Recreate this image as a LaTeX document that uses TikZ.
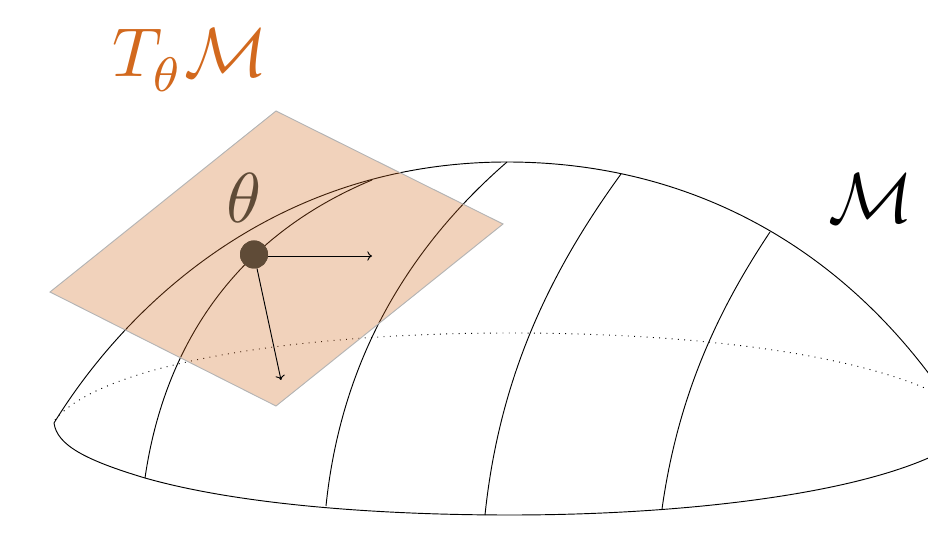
\documentclass[tikz,border=0pt]{standalone}
\usepackage{amsmath}
\usetikzlibrary{arrows.meta}
\definecolor{planefill}{HTML}{D2691E}
\definecolor{planeedge}{HTML}{B4B4B4}
\definecolor{pointc}{HTML}{5F4B37}
\definecolor{tangentc}{HTML}{D2691E}
\tikzset{
  px/.style={x=0.75pt,y=-0.75pt},
  surf/.style={line width=0.7pt,black},
  hidden/.style={line width=0.7pt,dash pattern=on 0.7pt off 4pt,black},
  plane/.style={fill=planefill,fill opacity=0.3,draw=planeedge,line width=0.7pt},
  vec/.style={-{To[length=3.5pt,width=7pt]},line width=0.7pt,black},
  pointdot/.style={circle,fill=pointc,draw=none,minimum size=21pt,inner sep=0pt}
}
\begin{document}
\begin{tikzpicture}[px]
\useasboundingbox (0,0) rectangle (928,534);
\clip (0,0) rectangle (928,534);
% surface
\draw[surf] (54,423) .. controls (130,300) and (280,162) .. (507,162)
  .. controls (680,162) and (830,238) .. (935,382);
\draw[surf] (54,423) .. controls (57,445) and (85,460) .. (145,478)
  .. controls (240,505) and (380,515) .. (510,515)
  .. controls (680,515) and (850,495) .. (935,455);
\draw[hidden] (55,420) .. controls (100,365) and (290,333) .. (510,333)
  .. controls (700,333) and (860,355) .. (940,395);
% meridians
\draw[surf] (145,478) .. controls (165,340) and (240,235) .. (372,180);
\draw[surf] (326,506) .. controls (340,370) and (400,255) .. (507,162);
\draw[surf] (485,515) .. controls (500,370) and (555,265) .. (621,174);
\draw[surf] (662,509) .. controls (678,395) and (718,310) .. (770,232);
% tangent plane
\coordinate (pa) at (276,111);
\coordinate (pb) at (503,224);
\coordinate (pc) at (276,406);
\coordinate (pd) at (50,292);
\draw[plane] (pa) -- (pb) -- (pc) -- (pd) -- cycle;
% point, tangent vectors
\node[pointdot] (dot) at (254,254.5) {};
\coordinate (e1) at (372,256);
\coordinate (e2) at (281,380);
\draw[vec] (dot |- e1) -- (e1);
\draw[vec] (dot) -- (e2);
\node[pointdot] at (dot) {};
% labels
\node[text=pointc,scale=5.3,inner sep=0pt] (theta) at (244,198) {$\theta$};
\node[text=tangentc,scale=5.2,inner sep=0pt] (tlabel) at (190,60) {$T_{\raisebox{-0.7pt}{$\scriptstyle\theta$}}\mathcal{M}$};
\node[text=black,scale=5.3,inner sep=0pt] (mlabel) at (871,198) {$\mathcal{M}$};
\end{tikzpicture}
\end{document}
